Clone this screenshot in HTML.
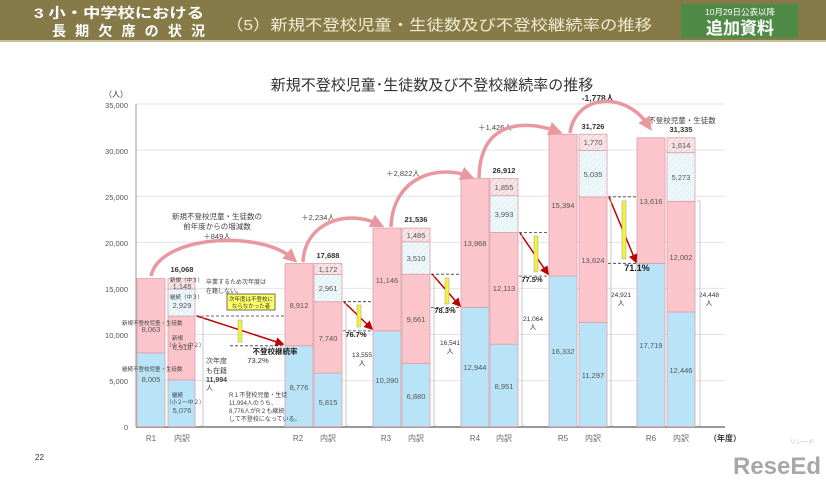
<!DOCTYPE html>
<html><head><meta charset="utf-8"><style>
body{margin:0;width:826px;height:479px;overflow:hidden;background:#fff;font-family:"Liberation Sans","Noto Sans CJK JP",sans-serif}
</style></head><body>
<svg width="826" height="479" xmlns="http://www.w3.org/2000/svg" font-family="Liberation Sans, Noto Sans CJK JP, sans-serif">
<defs>
<pattern id="hb" width="4" height="4" patternUnits="userSpaceOnUse" patternTransform="rotate(45)"><rect width="4" height="4" fill="#eef8fb"/><line x1="0" y1="0" x2="0" y2="4" stroke="#cfe6ee" stroke-width="1"/></pattern>
<pattern id="hp" width="4" height="4" patternUnits="userSpaceOnUse" patternTransform="rotate(45)"><rect width="4" height="4" fill="#f8e6e8"/><line x1="0" y1="0" x2="0" y2="4" stroke="#e6b8bf" stroke-width="1"/></pattern>
<marker id="ar" markerWidth="6" markerHeight="6" refX="5" refY="3" orient="auto"><path d="M0,0L6,3L0,6z" fill="#c00000"/></marker>
<marker id="cr" markerWidth="4" markerHeight="4" refX="2" refY="2" orient="auto"><path d="M0,0L4,2L0,4z" fill="#e8989e"/></marker>
</defs>
<!-- header -->
<rect x="0" y="0" width="826" height="40" fill="#867a48"/>
<rect x="0" y="40" width="826" height="2" fill="#c9c19a"/>
<text x="34" y="18" font-size="14" font-weight="bold" fill="#fff" textLength="170" lengthAdjust="spacingAndGlyphs">3 小・中学校における</text>
<text x="52" y="36" font-size="14" font-weight="bold" fill="#fff" textLength="153" lengthAdjust="spacing">長期欠席の状況</text>
<text x="226" y="30" font-size="15" fill="#f1ecd2" textLength="426" lengthAdjust="spacingAndGlyphs">（5）新規不登校児童・生徒数及び不登校継続率の推移</text>
<rect x="681" y="4" width="117" height="34" fill="#4f8b46"/>
<text x="740" y="15" font-size="8.5" fill="#fff" text-anchor="middle">10月29日公表以降</text>
<text x="740" y="34" font-size="17" font-weight="bold" fill="#fff" text-anchor="middle">追加資料</text>
<!-- chart title -->
<text x="432" y="90" font-size="15" fill="#333" text-anchor="middle">新規不登校児童･生徒数及び不登校継続率の推移</text>
<text x="116" y="97" font-size="8" fill="#333" text-anchor="middle">（人）</text>
<!-- grid -->
<g stroke="#e3e3e3" stroke-width="1">
<line x1="136" x2="725" y1="380.6" y2="380.6"/><line x1="136" x2="725" y1="334.5" y2="334.5"/>
<line x1="136" x2="725" y1="288.4" y2="288.4"/><line x1="136" x2="725" y1="242.3" y2="242.3"/>
<line x1="136" x2="725" y1="196.2" y2="196.2"/><line x1="136" x2="725" y1="150.1" y2="150.1"/>
<line x1="136" x2="725" y1="104" y2="104"/>
</g>
<line x1="136" x2="136" y1="104" y2="427" stroke="#999"/>
<line x1="136" x2="725" y1="427" y2="427" stroke="#777" stroke-width="1.5"/>
<g font-size="7.5" fill="#555" text-anchor="end">
<text x="128" y="430">0</text><text x="128" y="384">5,000</text><text x="128" y="338">10,000</text>
<text x="128" y="292">15,000</text><text x="128" y="246">20,000</text><text x="128" y="200">25,000</text>
<text x="128" y="154">30,000</text><text x="128" y="108">35,000</text>
</g>
<g font-size="8" fill="#666" text-anchor="middle">
<text x="151" y="441">R1</text><text x="182" y="441">内訳</text>
<text x="298" y="441">R2</text><text x="328" y="441">内訳</text>
<text x="386" y="441">R3</text><text x="416" y="441">内訳</text>
<text x="475" y="441">R4</text><text x="504" y="441">内訳</text>
<text x="563" y="441">R5</text><text x="593" y="441">内訳</text>
<text x="651" y="441">R6</text><text x="681" y="441">内訳</text>
<text x="725" y="441" fill="#333" font-weight="bold">（年度）</text>
</g>
<!-- bars -->
<g stroke="#d9a0aa" stroke-width="0.8">
<rect x="137" y="352.9" width="28" height="73.8" fill="#b9e4f7"/><rect x="137" y="278.6" width="28" height="74.3" fill="#fcc5cb"/>
<rect x="168" y="379.9" width="27" height="46.8" fill="#b9e4f7"/><rect x="168" y="316.1" width="27" height="63.8" fill="#fcc5cb"/>
<rect x="168" y="289.1" width="27" height="27" fill="url(#hb)"/><rect x="168" y="278.6" width="27" height="10.5" fill="url(#hp)"/>
<rect x="285" y="345.8" width="28" height="80.9" fill="#b9e4f7"/><rect x="285" y="263.6" width="28" height="82.2" fill="#fcc5cb"/>
<rect x="314" y="373.1" width="28" height="53.6" fill="#b9e4f7"/><rect x="314" y="301.7" width="28" height="71.4" fill="#fcc5cb"/>
<rect x="314" y="274.4" width="28" height="27.3" fill="url(#hb)"/><rect x="314" y="263.6" width="28" height="10.8" fill="url(#hp)"/>
<rect x="373" y="330.9" width="28" height="95.8" fill="#b9e4f7"/><rect x="373" y="228.1" width="28" height="102.8" fill="#fcc5cb"/>
<rect x="402" y="363.3" width="28" height="63.4" fill="#b9e4f7"/><rect x="402" y="274.2" width="28" height="89.1" fill="#fcc5cb"/>
<rect x="402" y="241.8" width="28" height="32.4" fill="url(#hb)"/><rect x="402" y="228.1" width="28" height="13.7" fill="url(#hp)"/>
<rect x="461" y="307.4" width="28" height="119.3" fill="#b9e4f7"/><rect x="461" y="178.6" width="28" height="128.8" fill="#fcc5cb"/>
<rect x="490" y="344.2" width="28" height="82.5" fill="#b9e4f7"/><rect x="490" y="232.5" width="28" height="111.7" fill="#fcc5cb"/>
<rect x="490" y="195.7" width="28" height="36.8" fill="url(#hb)"/><rect x="490" y="178.6" width="28" height="17.1" fill="url(#hp)"/>
<rect x="549" y="276.1" width="28" height="150.6" fill="#b9e4f7"/><rect x="549" y="134.2" width="28" height="141.9" fill="#fcc5cb"/>
<rect x="579" y="322.5" width="28" height="104.2" fill="#b9e4f7"/><rect x="579" y="196.9" width="28" height="125.6" fill="#fcc5cb"/>
<rect x="579" y="150.5" width="28" height="46.4" fill="url(#hb)"/><rect x="579" y="134.2" width="28" height="16.3" fill="url(#hp)"/>
<rect x="637" y="263.3" width="28" height="163.4" fill="#b9e4f7"/><rect x="637" y="137.8" width="28" height="125.5" fill="#fcc5cb"/>
<rect x="667" y="312" width="28" height="114.7" fill="#b9e4f7"/><rect x="667" y="201.3" width="28" height="110.7" fill="#fcc5cb"/>
<rect x="667" y="152.7" width="28" height="48.6" fill="url(#hb)"/><rect x="667" y="137.8" width="28" height="14.9" fill="url(#hp)"/>
</g>
<g font-size="7.5" fill="#555" text-anchor="middle">
<text x="151" y="382">8,005</text><text x="151" y="332">8,063</text>
<text x="182" y="413">5,076</text><text x="182" y="350">6,918</text><text x="182" y="308">2,929</text><text x="182" y="289">1,145</text>
<text x="299" y="390">8,776</text><text x="299" y="308">8,912</text>
<text x="328" y="405">5,815</text><text x="328" y="341">7,740</text><text x="328" y="291">2,961</text><text x="328" y="272">1,172</text>
<text x="387" y="383">10,390</text><text x="387" y="283">11,146</text>
<text x="416" y="399">6,880</text><text x="416" y="322">9,661</text><text x="416" y="261">3,510</text><text x="416" y="238">1,485</text>
<text x="475" y="370">12,944</text><text x="475" y="246">13,968</text>
<text x="504" y="389">8,951</text><text x="504" y="291">12,113</text><text x="504" y="217">3,993</text><text x="504" y="190">1,855</text>
<text x="563" y="354">16,332</text><text x="563" y="208">15,394</text>
<text x="593" y="378">11,297</text><text x="593" y="263">13,624</text><text x="593" y="177">5,035</text><text x="593" y="145">1,770</text>
<text x="651" y="348">17,719</text><text x="651" y="204">13,616</text>
<text x="681" y="373">12,446</text><text x="681" y="260">12,002</text><text x="681" y="180">5,273</text><text x="681" y="148">1,614</text>
</g>
<g font-size="7.5" fill="#333" font-weight="bold" text-anchor="middle">
<text x="182" y="272">16,068</text><text x="328" y="258">17,688</text><text x="416" y="222">21,536</text>
<text x="504" y="173">26,912</text><text x="593" y="129">31,726</text><text x="681" y="132">31,335</text>
<text x="598" y="101" font-size="8.5">-1,778人</text>
</g>
<g font-size="7.5" fill="#444" text-anchor="middle">
<text x="318" y="220">＋2,234人</text><text x="403" y="176">＋2,822人</text><text x="495" y="130">＋1,426人</text>
<text x="682" y="123">不登校児童・生徒数</text>
<text x="217" y="219">新規不登校児童・生徒数の</text><text x="217" y="229">前年度からの増減数</text><text x="217" y="239">＋849人</text>
</g>
<g fill="none" stroke="#e8989e" stroke-width="3.5" marker-end="url(#cr)">
<path d="M151,276 C160,235 260,230 292,258"/>
<path d="M303,262 C305,220 350,210 378,224"/>
<path d="M391,227 C393,175 440,165 468,176"/>
<path d="M479,178 C480,120 525,120 556,131"/>
<path d="M570,133 C575,95 625,90 648,125"/>
</g>
<g stroke="#333" stroke-dasharray="3,2" stroke-width="0.8">
<line x1="196" x2="285" y1="316" y2="316"/><line x1="230" x2="285" y1="345.8" y2="345.8"/>
<line x1="343" x2="373" y1="301.7" y2="301.7"/><line x1="343" x2="373" y1="330.9" y2="330.9"/>
<line x1="431" x2="461" y1="274.2" y2="274.2"/><line x1="431" x2="461" y1="307.4" y2="307.4"/>
<line x1="519" x2="549" y1="232.5" y2="232.5"/><line x1="519" x2="549" y1="276.1" y2="276.1"/>
<line x1="608" x2="637" y1="196.9" y2="196.9"/><line x1="608" x2="637" y1="263.3" y2="263.3"/>
</g>
<g stroke="#c00000" stroke-width="1.5" marker-end="url(#ar)">
<line x1="197" y1="316" x2="283" y2="344"/><line x1="344" y1="302" x2="372" y2="329"/>
<line x1="432" y1="274" x2="460" y2="306"/><line x1="520" y1="233" x2="548" y2="274"/>
<line x1="609" y1="197" x2="636" y2="262"/>
</g>
<g fill="#f4f33a" stroke="#999" stroke-width="0.5">
<rect x="238" y="320" width="4" height="22"/><rect x="357" y="305" width="4" height="22"/>
<rect x="445" y="278" width="4" height="26"/><rect x="534" y="236" width="4" height="36"/><rect x="622" y="201" width="4" height="58"/>
</g>
<g font-size="7.5" font-weight="bold" fill="#222" text-anchor="middle">
<text x="275" y="354">不登校継続率</text><text x="356" y="337">76.7%</text>
<text x="445" y="313">78.3%</text><text x="532" y="282">77.5%</text><text x="637" y="271" font-size="9">71.1%</text>
</g>
<text x="258" y="363" font-size="7.5" fill="#333" text-anchor="middle">73.2%</text>
<rect x="227" y="294" width="48" height="16" fill="#ffff66" stroke="#333" stroke-width="0.7"/>
<text x="251" y="301" font-size="5.5" text-anchor="middle" fill="#333">次年度は不登校に</text>
<text x="251" y="308" font-size="5.5" text-anchor="middle" fill="#333">ならなかった者</text>
<g font-size="6" fill="#444">
<text x="206" y="284">卒業するため次年度は</text><text x="206" y="293">在籍しない。</text>
<text x="206" y="363" font-size="7">次年度</text><text x="206" y="373" font-size="7">も在籍</text>
<text x="206" y="382" font-size="7" font-weight="bold">11,994</text><text x="206" y="390" font-size="7">人</text>
<text x="229" y="397">R１不登校児童・生徒</text><text x="229" y="405">11,994人のうち、</text>
<text x="229" y="413">8,776人がR２も継続</text><text x="229" y="421">して不登校になっている。</text>
<text x="122" y="325" font-size="5.5">新規不登校児童・生徒数</text><text x="122" y="371" font-size="5.5">継続不登校児童・生徒数</text>
<text x="170" y="282" font-size="5.5">新規（中３）</text><text x="170" y="299" font-size="5.5">継続（中３）</text>
<text x="172" y="340" font-size="5.5">新規</text><text x="166" y="347" font-size="5.5">（小１～中２）</text>
<text x="172" y="397" font-size="5.5">継続</text><text x="166" y="404" font-size="5.5">（小２～中２）</text>
</g>
<g font-size="6.5" fill="#333" text-anchor="middle">
<text x="362" y="357">13,555</text><text x="362" y="365">人</text>
<text x="450" y="345">16,541</text><text x="450" y="353">人</text>
<text x="533" y="321">21,064</text><text x="533" y="329">人</text>
<text x="621" y="297">24,921</text><text x="621" y="305">人</text>
<text x="709" y="297">24,448</text><text x="709" y="305">人</text>
</g>
<g fill="none" stroke="#bbb" stroke-width="0.8">
<path d="M200,316 h3 v110 h-3"/><path d="M346,302 v124 h3"/><path d="M434,274 v152 h3"/>
<path d="M522,233 v193 h3"/><path d="M611,197 v229 h3"/><path d="M697,201 h3 v225 h-3"/>
</g>
<text x="35" y="460" font-size="8" fill="#333">22</text>
<text x="733" y="474" font-size="24" font-weight="bold" fill="#a8a8a8" textLength="88" lengthAdjust="spacingAndGlyphs">ReseEd</text>
<text x="790" y="444" font-size="6" fill="#bbb">リシード</text>
</svg>
</body></html>
